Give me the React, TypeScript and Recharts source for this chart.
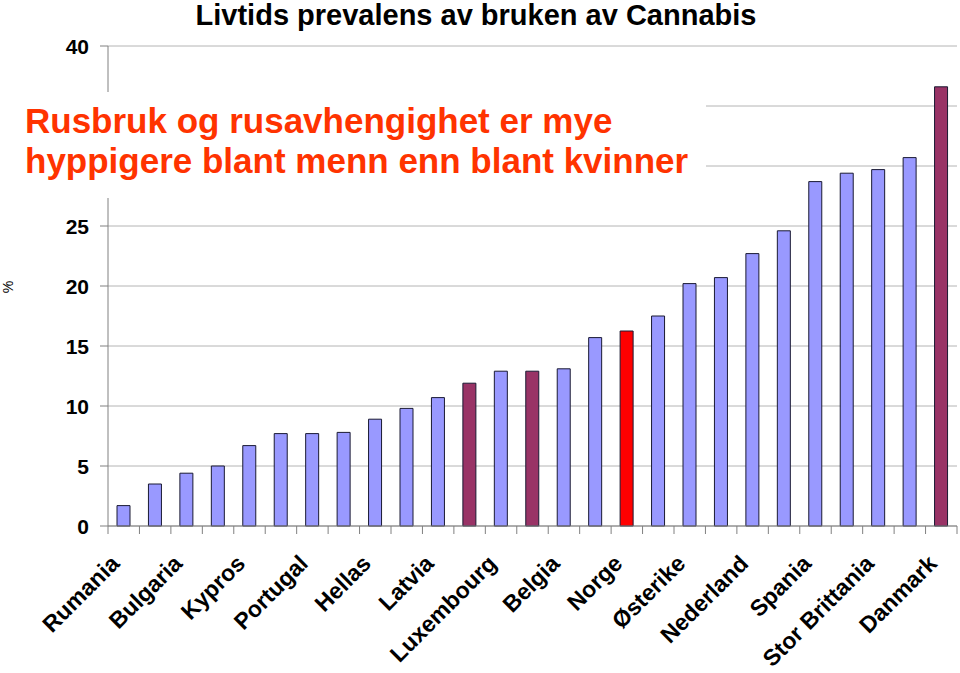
import { BarChart, Bar, XAxis, YAxis, CartesianGrid, Cell } from "recharts";

const categories = [
  "Rumania", "", "Bulgaria", "", "Kypros", "", "Portugal", "", "Hellas", "",
  "Latvia", "", "Luxembourg", "", "Belgia", "", "Norge", "", "Østerike", "",
  "Nederland", "", "Spania", "", "Stor Brittania", "", "Danmark",
];

const prevalence = [
  1.7, 3.5, 4.4, 5.0, 6.7, 7.7, 7.7, 7.8, 8.9, 9.8,
  10.7, 11.9, 12.9, 12.9, 13.1, 15.7, 16.25, 17.5, 20.2, 20.7,
  22.7, 24.6, 28.7, 29.4, 29.7, 30.7, 36.6,
];

const yTicks = [0, 5, 10, 15, 20, 25, 30, 35, 40];
// tick labels that sit behind the red note box
const coveredTicks = [30, 35];

// bars drawn in another colour (by position)
const highlighted: Record<number, string> = {
  11: "#993366",
  13: "#993366",
  16: "#FF0000",
  26: "#993366",
};

const data = categories.map((name, i) => ({ name, value: prevalence[i] }));

const FONT = "'Liberation Sans', Arial, sans-serif";
const W = 960;
const H = 673;
const LEFT = 108;
const RIGHT = 3;
const BAND = (W - LEFT - RIGHT) / categories.length;

function CountryTick(props: any) {
  const { x, y, payload, index } = props;
  const last = index === categories.length - 1;
  return (
    <g>
      <line x1={x - BAND / 2} x2={x - BAND / 2} y1={y - 8} y2={y} stroke="#808080" />
      {last && <line x1={x + BAND / 2} x2={x + BAND / 2} y1={y - 8} y2={y} stroke="#808080" />}
      <g transform={`translate(${x - 3},${y + 31})`}>
        <text
          textAnchor="end"
          transform="rotate(-45)"
          fontFamily={FONT}
          fontWeight="bold"
          fontSize={23}
          fill="#000"
        >
          {payload.value}
        </text>
      </g>
    </g>
  );
}

function ValueTick(props: any) {
  const { x, y, payload } = props;
  if (coveredTicks.includes(payload.value)) return <g />;
  return (
    <text x={x} y={y} dy="0.36em" textAnchor="end" fontFamily={FONT} fontWeight="bold" fontSize={21} fill="#000">
      {payload.value}
    </text>
  );
}

export default function App() {
  return (
    <div style={{ position: "absolute", left: 0, top: 0, width: W, height: H, background: "#fff", fontFamily: FONT }}>
      <BarChart width={W} height={H} data={data} margin={{ top: 46, right: RIGHT, left: 0, bottom: 0 }} barSize={13}>
        <CartesianGrid vertical={false} stroke="#b4b4b4" />
        <XAxis
          dataKey="name"
          interval={0}
          height={147}
          tickLine={false}
          tickSize={8}
          tickMargin={0}
          axisLine={{ stroke: "#808080" }}
          tick={<CountryTick />}
        />
        <YAxis
          domain={[0, 40]}
          ticks={yTicks}
          width={LEFT}
          tickSize={8}
          tickMargin={11}
          axisLine={{ stroke: "#808080" }}
          tickLine={{ stroke: "#808080" }}
          tick={<ValueTick />}
        />
        <YAxis
          yAxisId="frame"
          orientation="right"
          width={0}
          domain={[0, 40]}
          tick={false}
          tickLine={false}
          axisLine={{ stroke: "#808080" }}
        />
        <Bar dataKey="value" fill="#9999FF" stroke="#1a1a33" strokeWidth={1} isAnimationActive={false}>
          {data.map((_, i) => (
            <Cell key={i} fill={highlighted[i] ?? "#9999FF"} />
          ))}
        </Bar>
      </BarChart>

      <div
        style={{
          position: "absolute",
          left: 476,
          top: 0,
          transform: "translateX(-50%)",
          whiteSpace: "nowrap",
          fontSize: 29,
          lineHeight: "30px",
          fontWeight: "bold",
          color: "#000",
        }}
      >
        Livtids prevalens av bruken av Cannabis
      </div>

      <div
        style={{
          position: "absolute",
          left: 0,
          top: 92,
          width: 706,
          height: 106,
          background: "#fff",
        }}
      >
        <div
          style={{
            position: "absolute",
            left: 25,
            top: 9,
            whiteSpace: "nowrap",
            fontSize: 35,
            lineHeight: "40px",
            fontWeight: "bold",
            color: "#FF3300",
          }}
        >
          Rusbruk og rusavhengighet er mye
          <br />
          hyppigere blant menn enn blant kvinner
        </div>
      </div>

      <div
        style={{
          position: "absolute",
          left: 2,
          top: 279,
          fontSize: 14,
          lineHeight: "16px",
          transform: "rotate(-90deg)",
          color: "#000",
        }}
      >
        %
      </div>
    </div>
  );
}
